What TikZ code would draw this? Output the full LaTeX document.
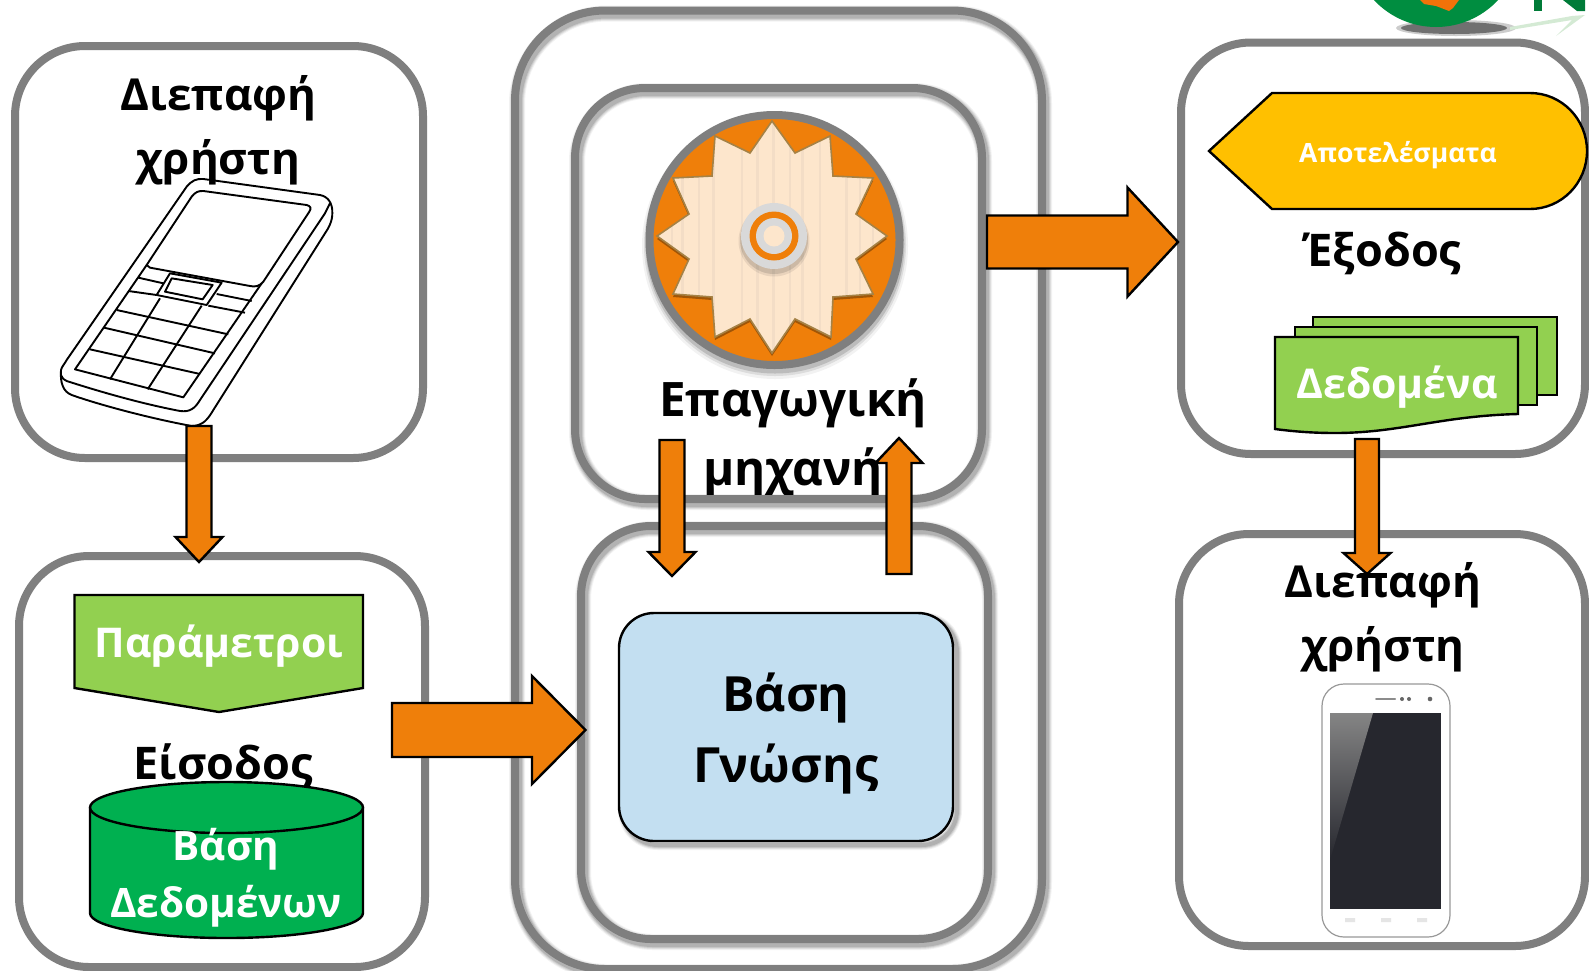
\documentclass[tikz,border=0pt]{standalone}
\usepackage{fontspec}
\setmainfont{Open Sans}
\usetikzlibrary{calc}
\definecolor{panelgray}{HTML}{7F7F7F}
\definecolor{arroworange}{HTML}{EF7F0A}
\definecolor{lightgreen}{HTML}{92D050}
\definecolor{dbgreen}{HTML}{00B050}
\definecolor{amber}{HTML}{FFC000}
\definecolor{kbblue}{HTML}{C3DFF1}
\definecolor{starfill}{HTML}{FDE6CC}
\definecolor{starline}{HTML}{A58246}
\definecolor{stripe}{HTML}{F3DDC6}
\definecolor{screendark}{HTML}{26272E}
\tikzset{
  panel/.style={draw=panelgray,line width=8pt,rounded corners=#1,inner sep=0pt,outer sep=0pt},
  panel/.default=70pt,
  blockarrow/.style={draw=black,fill=arroworange,line width=2.4pt,miter limit=10},
  shapeline/.style={draw=black,line width=2.4pt},
  title/.style={font=\fontsize{44}{64}\selectfont\bfseries,text=black,align=center,anchor=base,inner sep=0pt},
  whitetext/.style={font=\fontsize{40.5}{57}\selectfont\bfseries,text=white,align=center,anchor=base,inner sep=0pt},
  phoneline/.style={draw=black,line width=1.9pt,line join=round},
}
\newcommand\softshadow[2]{\foreach \w/\o in {#1}{\draw[black,opacity=\o,line width=\w pt,line join=round,shift={(2,3)}] #2;}}
% horizontal block arrow: from, to, half shaft, half head, head length
\newcommand\blockH[5]{\draw[blockarrow] let \p1=(#1),\p2=(#2) in
  (\x1,\y1+#3pt) -- (\x2-#5pt,\y1+#3pt) -- (\x2-#5pt,\y1+#4pt) -- (\x2,\y1) --
  (\x2-#5pt,\y1-#4pt) -- (\x2-#5pt,\y1-#3pt) -- (\x1,\y1-#3pt) -- cycle;}
% vertical block arrow: head length is signed (positive = pointing down)
\newcommand\blockV[5]{\draw[blockarrow] let \p1=(#1),\p2=(#2) in
  (\x1-#3pt,\y1) -- (\x1-#3pt,\y2+#5pt) -- (\x1-#4pt,\y2+#5pt) -- (\x1,\y2) --
  (\x1+#4pt,\y2+#5pt) -- (\x1+#3pt,\y2+#5pt) -- (\x1+#3pt,\y1) -- cycle;}
\begin{document}
\begin{tikzpicture}[x=1pt,y=-1pt]
\useasboundingbox (0,0) rectangle (1589,970);
\fill[white] (0,0) rectangle (1589,970);
\clip (0,0) rectangle (1589,970);

% logo fragment at the top edge
\fill[black,opacity=.2] (1456,28) ellipse[x radius=60pt,y radius=8pt];
\fill[black,opacity=.45] (1454,28) ellipse[x radius=53pt,y radius=6pt];
\fill[green!35!gray!25] (1510,27) -- (1572,16) -- (1585,15) -- (1556,36) -- (1572,20) -- (1510,30) -- cycle;
\fill[dbgreen!80!black] (1436,-58) circle[radius=85pt];
\fill[arroworange!90!red] (1420,0) -- (1424,4) -- (1436,6) -- (1449,11) -- (1453,8) -- (1459,0) -- cycle;
\fill[dbgreen!70!black] (1534,0) rectangle (1542,11);
\fill[dbgreen!70!black] (1563,0) -- (1577,11) -- (1585,11) -- (1585,0) -- cycle;

% shadows of the middle panels
\softshadow{16/.05,14/.07,12/.09,10/.12}{[rounded corners=90pt] (515,10.5) rectangle (1042,969)}
\softshadow{16/.05,14/.07,12/.09,10/.12}{[rounded corners=70pt] (575,88) rectangle (982,499)}
\softshadow{16/.05,14/.07,12/.09,10/.12}{[rounded corners=70pt] (581,526) rectangle (988,939)}

% user interface (left): old phone
\begin{scope}[x=0.33333pt,y=-0.33333pt]
\draw[phoneline,fill=white] (610,537) -- (960,585) .. controls (985,590) and (998,610) .. (997,640)
  .. controls (997,665) and (985,685) .. (975,700) -- (640,1230)
  .. controls (625,1255) and (610,1278) .. (575,1278)
  .. controls (450,1255) and (300,1215) .. (215,1185)
  .. controls (190,1175) and (180,1150) .. (183,1110)
  .. controls (185,1100) and (195,1090) .. (200,1080) -- (560,560)
  .. controls (575,542) and (590,535) .. (610,537) -- cycle;
\draw[phoneline] (990,610) .. controls (985,625) .. (975,640) -- (600,1200)
  .. controls (585,1225) and (570,1237) .. (540,1233)
  .. controls (420,1210) and (300,1175) .. (200,1143) .. controls (190,1138) .. (183,1125);
\draw[phoneline] (440,795) -- (575,590) .. controls (585,577) and (595,572) .. (610,573) -- (920,615)
  .. controls (932,618) and (935,625) .. (928,635) -- (790,845)
  .. controls (780,858) and (765,862) .. (750,858) -- (450,803) .. controls (443,801) .. (440,795) -- cycle;
\draw[phoneline] (440,795) -- (225,1108) -- (550,1192) -- (785,850);
\draw[phoneline] (510,820) -- (665,848) -- (620,915) -- (470,885) -- cycle;
\draw[phoneline] (515,835) -- (638,855) -- (608,898) -- (495,875) -- cycle;
\draw[phoneline] (415,833) -- (490,850) (385,873) -- (470,885) (650,882) -- (755,903) (625,917) -- (735,938);
\draw[phoneline] (350,930) -- (685,1003) (312,983) -- (645,1060) (270,1048) -- (600,1122);
\draw[phoneline] (480,895) -- (330,1138) (605,917) -- (443,1168);
\end{scope}
\node[title] (uiin) at (218.5,174) {Διεπαφή\\χρήστη};

% input
\draw[shapeline,fill=lightgreen,line join=miter] (74.5,595) -- (363,595) -- (363,688) -- (219,712) -- (74.5,688) -- cycle;
\node[whitetext,font=\fontsize{41}{56}\selectfont\bfseries] (params) at (219,657) {Παράμετροι};
\node[title,font=\fontsize{45}{60}\selectfont\bfseries] (inlabel) at (223,779) {Είσοδος};
\draw[shapeline,fill=dbgreen] (90,808) -- (90,913) arc[start angle=180,end angle=360,x radius=136.5pt,y radius=25pt] -- (363,808) -- cycle;
\draw[shapeline,fill=dbgreen] (226.5,807.5) ellipse[x radius=136.5pt,y radius=25.5pt];
\node[whitetext] (db) at (226,917) {Βάση\\Δεδομένων};

% knowledge base
\softshadow{10/.05,8/.07,6/.1,4/.12}{[rounded corners=35pt,shift={(2,1)}] (619,613) rectangle (953,841)}
\draw[shapeline,fill=kbblue,rounded corners=35pt] (619,613) rectangle (953,841);
\node[title,font=\fontsize{48.5}{71}\selectfont\bfseries] (kb) at (786,782) {Βάση\\Γνώσης};

% inference engine
\fill[black,opacity=.05] (775,246) circle[radius=133pt];
\fill[black,opacity=.09] (775,245) circle[radius=131pt];
\fill[black,opacity=.14] (775,244) circle[radius=129.5pt];
\draw[panelgray,fill=arroworange,line width=8pt] (774.5,240) circle[radius=125pt];
\begin{scope}
\clip (774.5,240) circle[radius=121pt];
\fill[black!60!arroworange,opacity=.55,shift={(0,3)}]
  (772,121) -- (795,153) -- (830,136) -- (833,176) -- (873,178) -- (856,214) -- (887,236) -- (856,259) -- (873,294) -- (833,297) -- (831,337) -- (795,319) -- (772,353) -- (750,319) -- (715,337) -- (712,297) -- (673,294) -- (689,259) -- (657,236) -- (689,214) -- (673,178) -- (712,176) -- (715,136) -- (750,153) -- cycle;
\end{scope}
\begin{scope}
\path[clip] (772,121) -- (795,153) -- (830,136) -- (833,176) -- (873,178) -- (856,214) -- (887,236) -- (856,259) -- (873,294) -- (833,297) -- (831,337) -- (795,319) -- (772,353) -- (750,319) -- (715,337) -- (712,297) -- (673,294) -- (689,259) -- (657,236) -- (689,214) -- (673,178) -- (712,176) -- (715,136) -- (750,153) -- cycle;
\fill[starfill] (650,115) rectangle (895,360);
\foreach \sx/\sw in {672/2,682/3,699/2,713/3,742/2,757/3,773/3,790/2,802/3,820/2,846/3,860/2,873/2}{
  \draw[stripe,line width=\sw pt] (\sx,115) -- (\sx,360);}
\end{scope}
\draw[starline,line width=1.6pt,line join=miter]
  (772,121) -- (795,153) -- (830,136) -- (833,176) -- (873,178) -- (856,214) -- (887,236) -- (856,259) -- (873,294) -- (833,297) -- (831,337) -- (795,319) -- (772,353) -- (750,319) -- (715,337) -- (712,297) -- (673,294) -- (689,259) -- (657,236) -- (689,214) -- (673,178) -- (712,176) -- (715,136) -- (750,153) -- cycle;
\fill[black,opacity=.08] (774,241) circle[radius=35.5pt];
\fill[black,opacity=.12] (774,240) circle[radius=34pt];
\fill[black!15] (774,236) circle[radius=33pt];
\fill[arroworange] (774,236) circle[radius=24.5pt];
\fill[black!15] (774,236) circle[radius=18pt];
\fill[starfill] (774,236) circle[radius=10.5pt];
\node[title,font=\fontsize{47.5}{69}\selectfont\bfseries] (engine) at (793,485) {Επαγωγική\\μηχανή};

% smartphone
\draw[black!40,line width=1.2pt,fill=white,rounded corners=22pt] (1322,684) rectangle (1450,937);
\fill[screendark] (1330,713) rectangle (1441,909);
\shade[top color=black!48,bottom color=screendark] (1330,713) -- (1373,713) -- (1330,860) -- cycle;
\draw[black!45,line width=2pt,line cap=round] (1376,699) -- (1395,699);
\fill[black!60] (1402,699) circle[radius=2pt] (1409,699) circle[radius=2pt] (1430,699) circle[radius=2.3pt];
\fill[black!10] (1345,918) rectangle (1355,922) (1381,918) rectangle (1391,922) (1417,918) rectangle (1427,922);

% panels (their strokes lie over the labels)
\node[panel,minimum width=408pt,minimum height=412pt] (ui1) at (219,252) {};
\node[panel,minimum width=406pt,minimum height=411pt] (input) at (222,761.5) {};
\node[panel=90pt,minimum width=527pt,minimum height=958.5pt] (system) at (778.5,489.75) {};
\node[panel,minimum width=407pt,minimum height=411pt] (engbox) at (778.5,293.5) {};
\node[panel,minimum width=407pt,minimum height=413pt] (kbbox) at (784.5,732.5) {};
\node[panel,minimum width=404pt,minimum height=411.5pt] (output) at (1383,248.25) {};
\node[panel,minimum width=406pt,minimum height=412pt] (ui2) at (1382,740) {};

% output: results, label, data
\draw[shapeline,fill=amber,line join=miter] (1209,151) -- (1272,93) -- (1530,93) arc[start angle=90,end angle=-90,x radius=57pt,y radius=58pt] -- (1272,209) -- cycle;
\node[whitetext,font=\fontsize{26.5}{36}\selectfont\bfseries] (results) at (1398,162) {Αποτελέσματα};
\node[title,font=\fontsize{45}{60}\selectfont\bfseries] (outlabel) at (1383,266) {Έξοδος};
\draw[shapeline,fill=lightgreen] (1313,317) -- (1557,317) -- (1557,395) -- (1313,395) -- cycle;
\draw[shapeline,fill=lightgreen] (1295,327) -- (1537,327) -- (1537,405) -- (1295,405) -- cycle;
\draw[shapeline,fill=lightgreen,line join=miter] (1275,337) -- (1518,337) -- (1518,414)
  .. controls (1440,416) and (1400,433) .. (1335,433) .. controls (1310,433) and (1290,431) .. (1275,429) -- cycle;
\node[whitetext,font=\fontsize{41}{56}\selectfont\bfseries] (data) at (1397,398) {Δεδομένα};

% block arrows
\coordinate (a1s) at (199,426); \coordinate (a1e) at (199,562);
\coordinate (a2s) at (392,730); \coordinate (a2e) at (585.5,730);
\coordinate (a3s) at (672,440); \coordinate (a3e) at (672,576);
\coordinate (a4s) at (899,574); \coordinate (a4e) at (899,438);
\coordinate (a5s) at (987,242); \coordinate (a5e) at (1178,242);
\coordinate (a6s) at (1367,439); \coordinate (a6e) at (1367,574);
\blockV{a1s}{a1e}{12.5}{23.5}{25}
\blockH{a2s}{a2e}{27}{54}{53.5}
\blockV{a3s}{a3e}{12.5}{23.5}{24}
\blockV{a4s}{a4e}{12.5}{23.5}{-25}
\blockH{a5s}{a5e}{26.5}{54.5}{50.5}
\blockV{a6s}{a6e}{12}{23.5}{21}

\node[title] (uiout) at (1383,661) {Διεπαφή\\χρήστη};
\end{tikzpicture}
\end{document}
